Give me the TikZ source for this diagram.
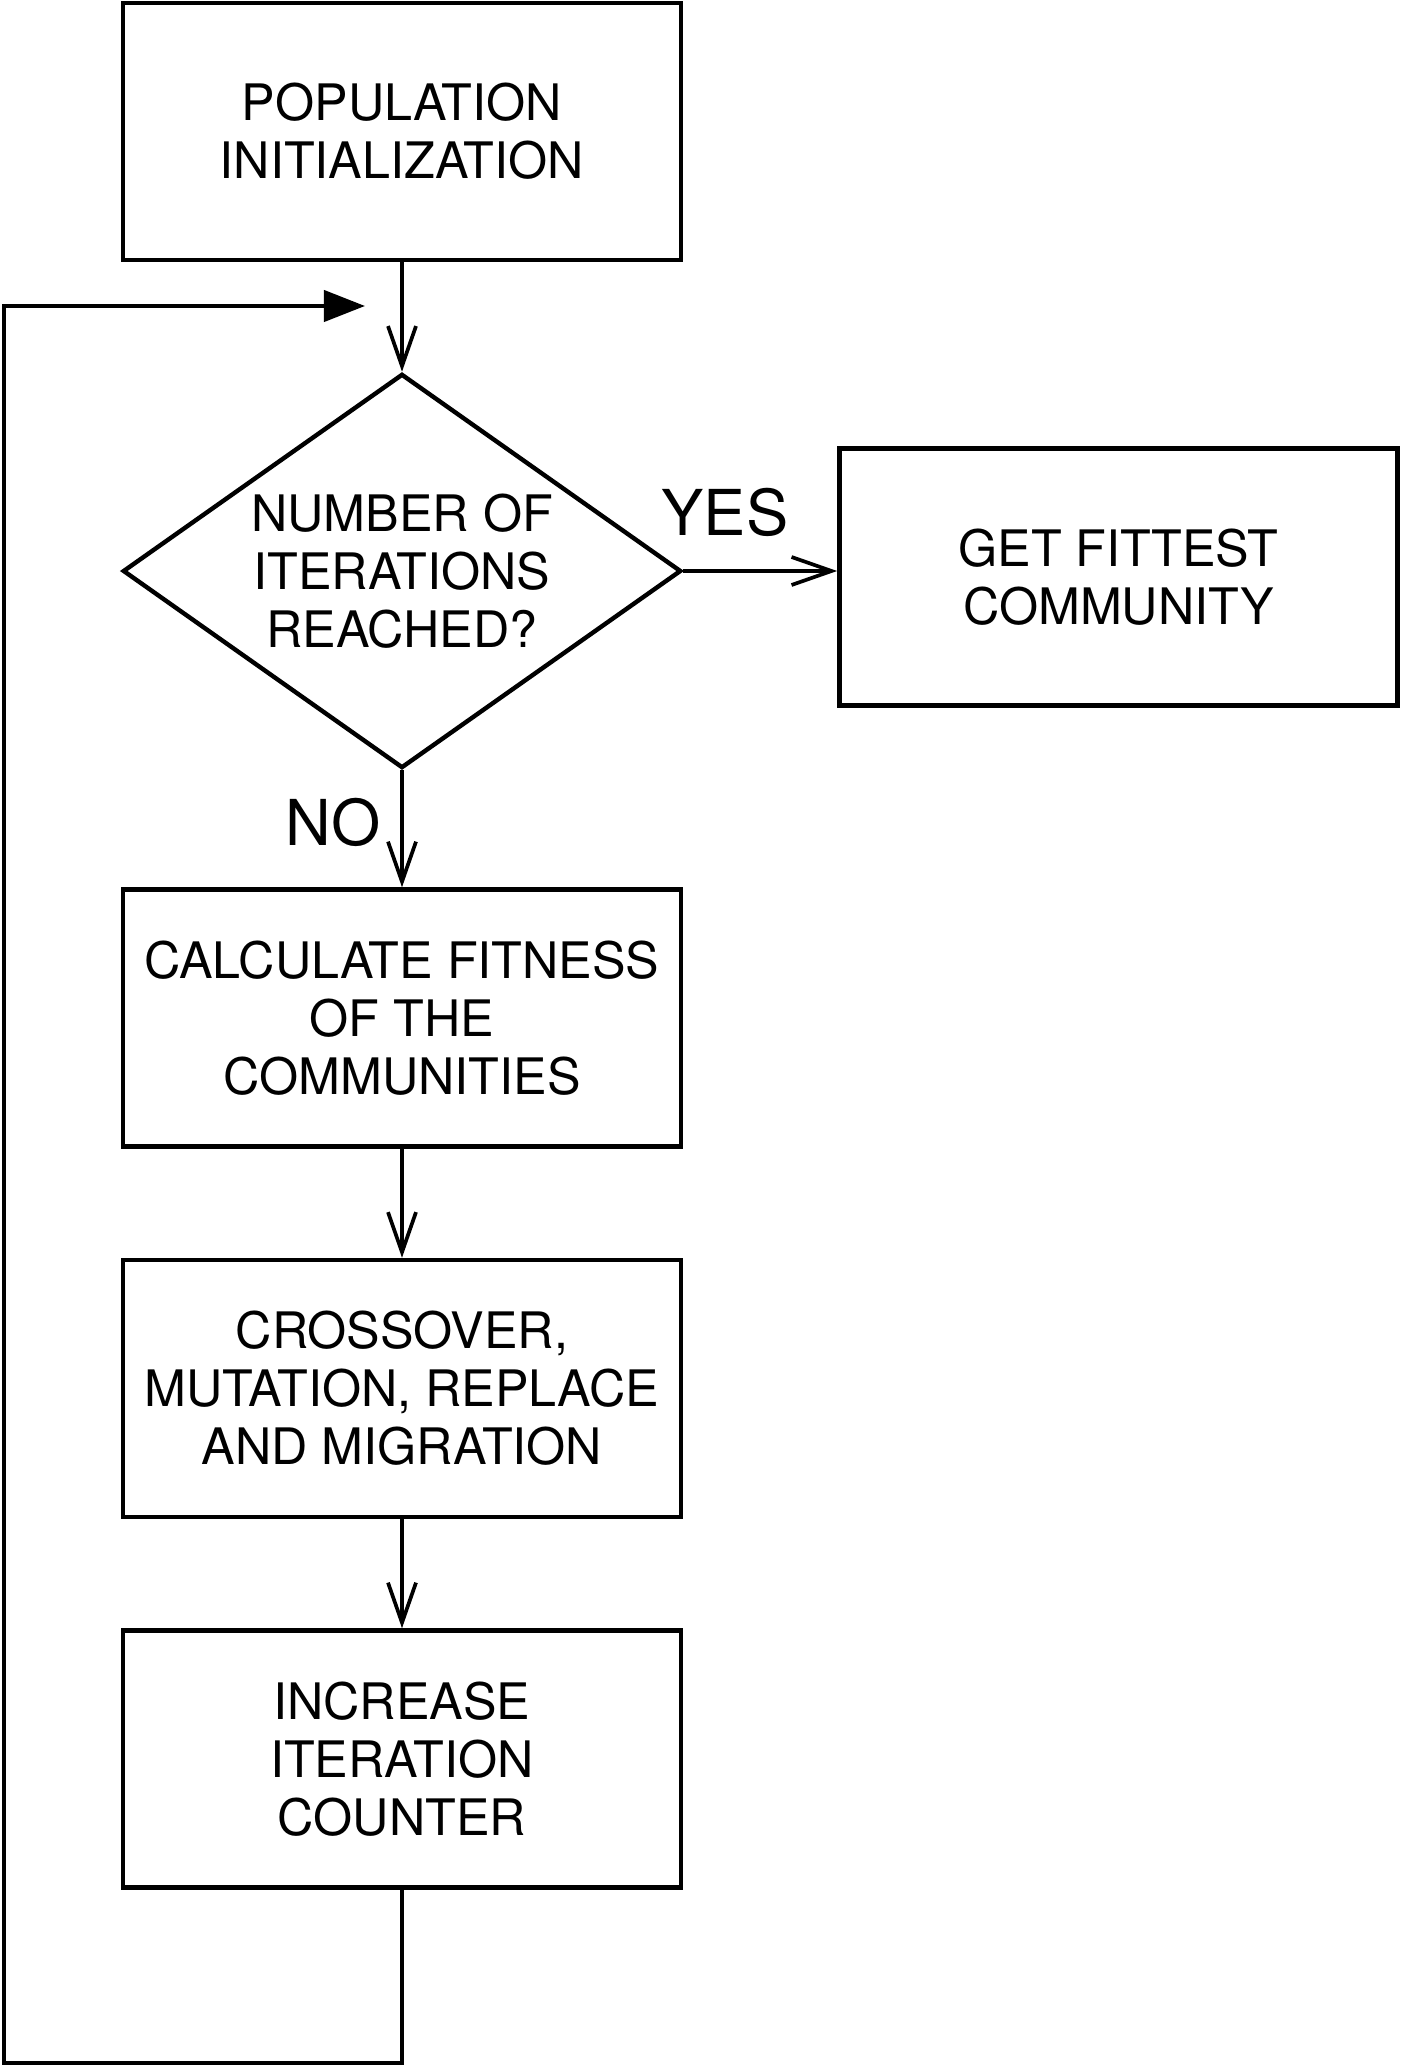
\documentclass[tikz,border=0pt]{standalone}
\usepackage{fontspec}
\setmainfont{TeX Gyre Heros}
\usetikzlibrary{shapes.geometric,arrows.meta}
\begin{document}
\begin{tikzpicture}[x=0.01cm, y=0.01cm]
\tikzstyle{every node}+=[inner sep=0pt]
\tikzstyle{block}=[draw=black, line width=1.25pt, minimum width=5.58cm, minimum height=2.57cm, align=center, font=\fontsize{14.3}{16.5}\selectfont]
\tikzstyle{decision}=[block, shape=diamond, minimum height=3.94cm, aspect=1.416]
\tikzstyle{answer}=[font=\fontsize{18}{20}\selectfont]
\tikzstyle{flow}=[draw=black, line width=1.05pt, -{Straight Barb[length=0.4cm, width=0.28cm, line width=1.05pt]}]
\tikzstyle{back}=[draw=black, line width=1.2pt, -{Triangle[length=0.41cm, width=0.31cm]}]
\useasboundingbox (0,0) rectangle (1401,-2067);
\node [block] (init) at (402,-131.5) {POPULATION\\INITIALIZATION};
\node [decision] (check) at (402,-571) {NUMBER OF\\ITERATIONS\\REACHED?};
\node [block] (fittest) at (1118.5,-577) {GET FITTEST\\COMMUNITY};
\node [block] (fitness) at (402,-1018) {CALCULATE FITNESS\\OF THE\\COMMUNITIES};
\node [block] (cross) at (402,-1388.5) {CROSSOVER,\\MUTATION, REPLACE\\AND MIGRATION};
\node [block] (incr) at (402,-1759) {INCREASE\\ITERATION\\COUNTER};
\node [answer] (yes) at (725,-512) {YES};
\node [answer] (no) at (333,-822) {NO};
\coordinate (corner) at (4,-2063);
\coordinate (loopend) at (365,-306);
\draw [flow] (init) -- (check);
\draw [flow] (check.east) -- (check.east -| fittest.west);
\draw [flow] (check) -- (fitness);
\draw [flow] (fitness) -- (cross);
\draw [flow] (cross) -- (incr);
\draw [back] (incr.south) |- (corner) |- (loopend);
\end{tikzpicture}
\end{document}
